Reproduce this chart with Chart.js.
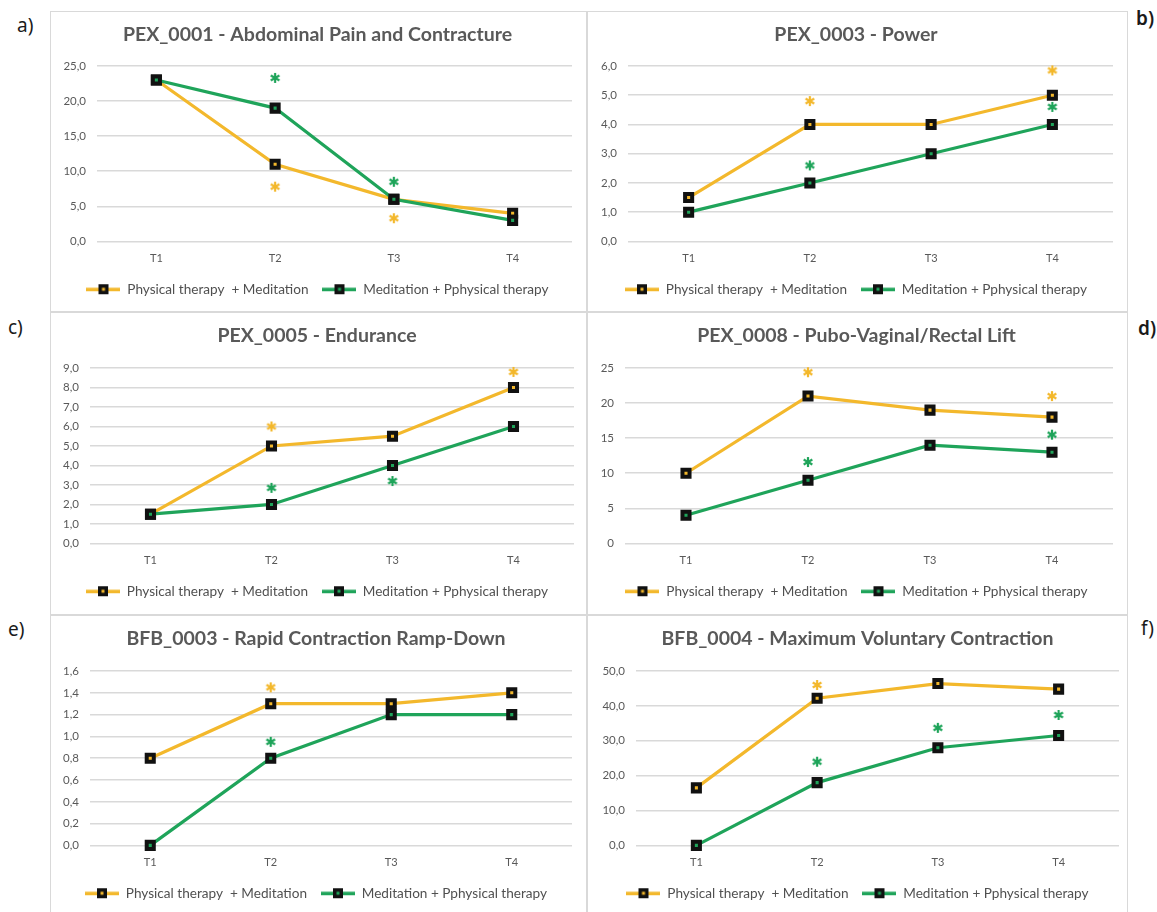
<!DOCTYPE html>
<html>
<head>
<meta charset="utf-8">
<script src="https://cdn.jsdelivr.net/npm/chart.js@4.4.1/dist/chart.umd.min.js"></script>
<style>
    body { margin: 0; background: #fff; width: 1157px; height: 912px; overflow: hidden; position: relative; }
    .marco { position: absolute; border: 1.5px solid #d9d9d9; box-sizing: border-box; }
    canvas { position: absolute; }
    .letra { position: absolute; font: 19px "Noto Sans", sans-serif; color: #1a1a1a; line-height: 20px; }
</style>
</head>
<body>
<div class="letra" style="left:17px; top:15px;">a)</div>
<div class="letra" style="left:1136px; top:8px; font-weight:600;">b)</div>
<div class="letra" style="left:8px; top:317px;">c)</div>
<div class="letra" style="left:1138px; top:318px; font-weight:600;">d)</div>
<div class="letra" style="left:8px; top:619px;">e)</div>
<div class="letra" style="left:1141px; top:618px;">f)</div>

<script>
//datos
const periodos = ['T1', 'T2', 'T3', 'T4'];
const nombreFisio = 'Physical therapy  + Meditation';
const nombreMedit = 'Meditation + Pphysical therapy';

// a) PEX_0001
const dolorFisio = [23, 11, 6, 4];
const dolorMedit = [23, 19, 6, 3];
const dolorAstFisio = [null, 7.8, 3.3, null];
const dolorAstMedit = [null, 23.3, 8.5, null];

// b) PEX_0003
const potenciaFisio = [1.5, 4, 4, 5];
const potenciaMedit = [1, 2, 3, 4];
const potenciaAstFisio = [null, 4.8, null, 5.85];
const potenciaAstMedit = [null, 2.6, null, 4.6];

// c) PEX_0005
const resistenciaFisio = [1.5, 5, 5.5, 8];
const resistenciaMedit = [1.5, 2, 4, 6];
const resistenciaAstFisio = [null, 6.0, null, 8.8];
const resistenciaAstMedit = [null, 2.85, 3.2, null];

// d) PEX_0008
const elevacionFisio = [10, 21, 19, 18];
const elevacionMedit = [4, 9, 14, 13];
const elevacionAstFisio = [null, 24.4, null, 21.0];
const elevacionAstMedit = [null, 11.6, null, 15.5];

// e) BFB_0003
const rampaFisio = [0.8, 1.3, 1.3, 1.4];
const rampaMedit = [0, 0.8, 1.2, 1.2];
const rampaAstFisio = [null, 1.45, null, null];
const rampaAstMedit = [null, 0.95, null, null];

// f) BFB_0004
const contraccionFisio = [16.5, 42.2, 46.4, 44.8];
const contraccionMedit = [0, 18, 28, 31.5];
const contraccionAstFisio = [null, 46, null, null];
const contraccionAstMedit = [null, 24, 33.7, 37.4];

// ejes y: maximo, paso, decimales
const ejeDolor = [25, 5, 1];
const ejePotencia = [6, 1, 1];
const ejeResistencia = [9, 1, 1];
const ejeElevacion = [25, 5, 0];
const ejeRampa = [1.6, 0.2, 1];
const ejeContraccion = [50, 10, 1];
//termina datos

const amarillo = '#f3b82c';
const verde = '#1fa45a';
const gris = '#595959';

// simbolo de la leyenda: linea con cuadrado negro
function simboloLeyenda(color) {
    const c = document.createElement('canvas');
    c.width = 34; c.height = 12;
    const g = c.getContext('2d');
    g.fillStyle = color;
    g.fillRect(0, 4.5, 34, 3.5);
    g.fillStyle = '#111';
    g.fillRect(12, 1, 10, 10);
    g.fillStyle = color;
    g.fillRect(15.5, 4.5, 3, 3);
    return c;
}

// asterisco de significancia
function asterisco(color) {
    const c = document.createElement('canvas');
    c.width = 12; c.height = 12;
    const g = c.getContext('2d');
    g.strokeStyle = color;
    g.lineWidth = 2.2;
    for (let k = 0; k < 3; k++) {
        const a = Math.PI / 2 + k * Math.PI / 3;
        g.beginPath();
        g.moveTo(6 + 5 * Math.cos(a), 6 + 5 * Math.sin(a));
        g.lineTo(6 - 5 * Math.cos(a), 6 - 5 * Math.sin(a));
        g.stroke();
    }
    return c;
}

const simbolos = [simboloLeyenda(amarillo), simboloLeyenda(verde)];
const astAmarillo = asterisco(amarillo);
const astVerde = asterisco(verde);

function serie(nombre, datos, color, orden) {
    return {
        label: nombre,
        data: datos,
        borderColor: color,
        backgroundColor: color,
        borderWidth: 3.2,
        pointStyle: 'rect',
        pointRadius: 5,
        pointBorderWidth: 4,
        pointBorderColor: '#111',
        pointBackgroundColor: color,
        order: orden
    };
}

function marcas(datos, imagen) {
    return {
        label: '',
        data: datos,
        showLine: false,
        pointStyle: imagen,
        pointRadius: 6,
        order: 0
    };
}

function crearGrafico(caja, titulo, fisio, medit, astFisio, astMedit, eje) {
    const marco = document.createElement('div');
    marco.className = 'marco';
    Object.assign(marco.style, { left: caja.x + 'px', top: caja.y + 'px', width: caja.w + 'px', height: caja.h + 'px' });
    document.body.appendChild(marco);

    const lienzo = document.createElement('canvas');
    lienzo.width = caja.w;
    lienzo.height = caja.h;
    Object.assign(lienzo.style, { left: caja.x + 'px', top: caja.y + 'px' });
    document.body.appendChild(lienzo);

    const [maximo, paso, decimales] = eje;

    // margen izquierdo parecido al derecho para centrar titulo y leyenda
    return new Chart(lienzo, {
        type: 'line',
        data: {
            labels: periodos,
            datasets: [
                serie(nombreFisio, fisio, amarillo, 2),
                serie(nombreMedit, medit, verde, 1),
                marcas(astFisio, astAmarillo),
                marcas(astMedit, astVerde)
            ]
        },
        options: {
            responsive: false,
            animation: false,
            events: [],
            clip: false,
            layout: { padding: { left: caja.margen, right: caja.der, top: 0, bottom: caja.h - caja.abajo - 64 } },
            plugins: {
                tooltip: { enabled: false },
                title: {
                    display: true,
                    text: titulo,
                    color: gris,
                    font: { family: 'Lato', size: 19.5, weight: 'bold', lineHeight: 1.2 },
                    padding: { top: 12, bottom: caja.arriba - 12 - 23.4 }
                },
                legend: {
                    position: 'bottom',
                    labels: {
                        usePointStyle: true,
                        pointStyleWidth: 34,
                        padding: 14,
                        color: '#505050',
                        font: { family: 'Lato', size: 13.6 },
                        generateLabels: (chart) => Chart.defaults.plugins.legend.labels.generateLabels(chart)
                            .filter(item => item.datasetIndex < 2)
                            .map(item => Object.assign(item, { pointStyle: simbolos[item.datasetIndex] })),
                        sort: (a, b) => a.datasetIndex - b.datasetIndex
                    }
                }
            },
            scales: {
                x: {
                    offset: true,
                    grid: { display: false, drawTicks: false },
                    border: { display: false },
                    ticks: { color: gris, padding: 10, font: { family: 'Lato', size: 11 } },
                    afterFit: (scale) => { scale.height = 27; }
                },
                y: {
                    min: 0,
                    max: maximo,
                    grid: { color: '#d9d9d9', lineWidth: 1.5, drawTicks: false },
                    border: { display: false },
                    ticks: {
                        stepSize: paso,
                        color: gris,
                        padding: 11,
                        font: { family: 'Lato', size: 11.5 },
                        callback: (valor) => Number(valor).toFixed(decimales).replace('.', ',')
                    },
                    afterFit: (scale) => { scale.width = caja.izq - caja.margen; }
                }
            }
        }
    });
}

//graficos
crearGrafico({ x: 50, y: 11, w: 537, h: 301, izq: 47, margen: 13, der: 15, arriba: 55, abajo: 231 },
    'PEX_0001 - Abdominal Pain and Contracture', dolorFisio, dolorMedit, dolorAstFisio, dolorAstMedit, ejeDolor);
crearGrafico({ x: 587, y: 11, w: 541, h: 301, izq: 41, margen: 12, der: 15, arriba: 55, abajo: 231 },
    'PEX_0003 - Power', potenciaFisio, potenciaMedit, potenciaAstFisio, potenciaAstMedit, ejePotencia);
crearGrafico({ x: 50, y: 312, w: 537, h: 303, izq: 40, margen: 10, der: 13, arriba: 56, abajo: 232 },
    'PEX_0005 - Endurance', resistenciaFisio, resistenciaMedit, resistenciaAstFisio, resistenciaAstMedit, ejeResistencia);
crearGrafico({ x: 587, y: 312, w: 541, h: 303, izq: 38, margen: 13, der: 15, arriba: 56, abajo: 232 },
    'PEX_0008 - Pubo-Vaginal/Rectal Lift', elevacionFisio, elevacionMedit, elevacionAstFisio, elevacionAstMedit, ejeElevacion);
crearGrafico({ x: 50, y: 615, w: 537, h: 300, izq: 40, margen: 10, der: 15, arriba: 56, abajo: 231 },
    'BFB_0003 - Rapid Contraction Ramp-Down', rampaFisio, rampaMedit, rampaAstFisio, rampaAstMedit, ejeRampa);
crearGrafico({ x: 587, y: 615, w: 541, h: 300, izq: 49, margen: 7, der: 7, arriba: 56, abajo: 231 },
    'BFB_0004 - Maximum Voluntary Contraction', contraccionFisio, contraccionMedit, contraccionAstFisio, contraccionAstMedit, ejeContraccion);
//termina graficos
</script>
</body>
</html>
